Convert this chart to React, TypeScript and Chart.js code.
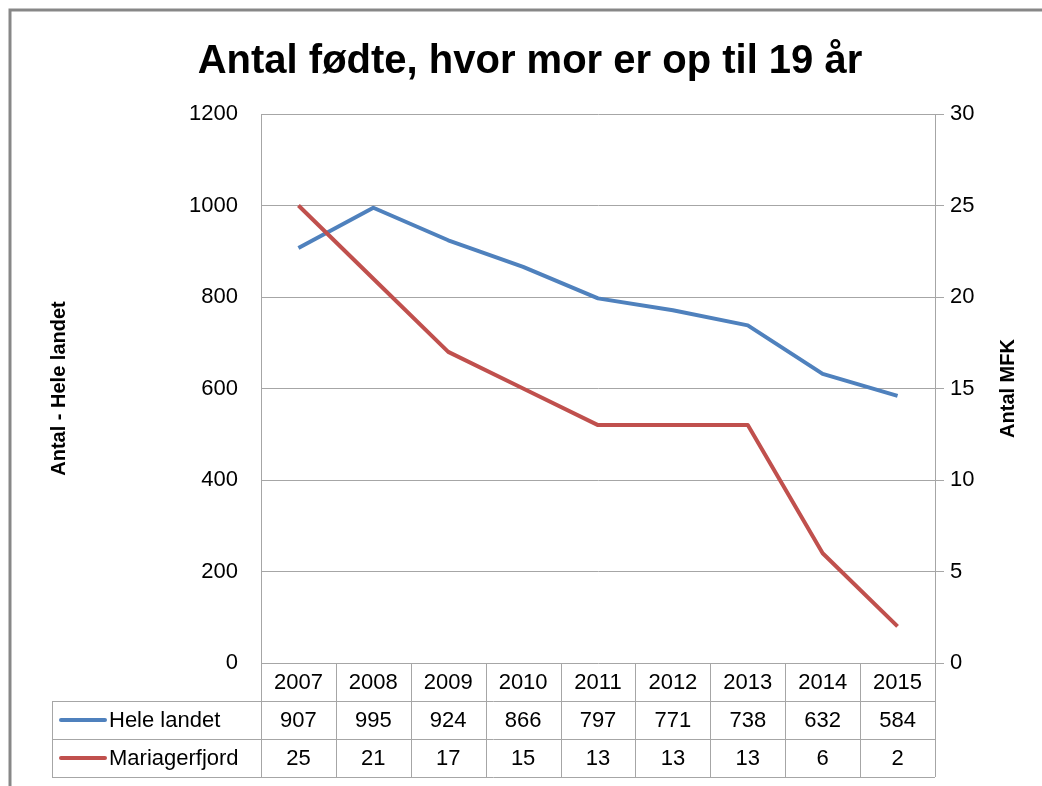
import React, { useEffect, useRef } from "react";
import { Chart, registerables } from "chart.js";

Chart.register(...registerables);

const years = ["2007", "2008", "2009", "2010", "2011", "2012", "2013", "2014", "2015"];
const heleLandet = [907, 995, 924, 866, 797, 771, 738, 632, 584];
const mariagerfjord = [25, 21, 17, 15, 13, 13, 13, 6, 2];
const leftTicks = [0, 200, 400, 600, 800, 1000, 1200];
const rightTicks = [0, 5, 10, 15, 20, 25, 30];

const TITLE = "Antal fødte, hvor mor er op til 19 år";
const LEFT_TITLE = "Antal - Hele landet";
const RIGHT_TITLE = "Antal MFK";
const NAME_A = "Hele landet";
const NAME_B = "Mariagerfjord";

const BLUE = "#4F81BD";
const RED = "#C0504D";
const GRID = "#a6a6a6";
const FONT = "'Liberation Sans', Arial, sans-serif";

const W = 1042;
const H = 786;

const decorPlugin = {
  id: "decor",
  beforeDraw(chart: any) {
    const ctx = chart.ctx;
    ctx.save();
    ctx.fillStyle = "#ffffff";
    ctx.fillRect(0, 0, W, H);
    ctx.strokeStyle = "#878787";
    ctx.lineWidth = 3;
    ctx.strokeRect(10, 10, W + 50, H + 50);
    ctx.restore();
  },
  afterDraw(chart: any) {
    const ctx = chart.ctx;
    const area = chart.chartArea;
    const xs = chart.scales.x;
    ctx.save();
    // main title
    ctx.fillStyle = "#000";
    ctx.font = `bold 40px ${FONT}`;
    ctx.textAlign = "center";
    ctx.textBaseline = "alphabetic";
    ctx.fillText(TITLE, 530, 73);

    // axis titles
    const cy = (area.top + area.bottom) / 2;
    ctx.font = `bold 20px ${FONT}`;
    ctx.textBaseline = "middle";
    ctx.save();
    ctx.translate(59, cy);
    ctx.rotate(-Math.PI / 2);
    ctx.fillText(LEFT_TITLE, 0, 0);
    ctx.restore();
    ctx.save();
    ctx.translate(1008, cy);
    ctx.rotate(-Math.PI / 2);
    ctx.fillText(RIGHT_TITLE, 0, 0);
    ctx.restore();

    // data table
    const n = years.length;
    const colW = (area.right - area.left) / n;
    const top = area.bottom;
    const r1 = top + 38;
    const r2 = r1 + 38;
    const r3 = r2 + 38;
    const legL = 52;
    ctx.strokeStyle = GRID;
    ctx.lineWidth = 1;
    ctx.beginPath();
    [r1, r2, r3].forEach((y) => {
      ctx.moveTo(legL, Math.round(y) + 0.5);
      ctx.lineTo(area.right, Math.round(y) + 0.5);
    });
    for (let i = 0; i <= n; i++) {
      const x = Math.round(area.left + i * colW) + 0.5;
      ctx.moveTo(x, top);
      ctx.lineTo(x, r3);
    }
    ctx.moveTo(legL + 0.5, r1);
    ctx.lineTo(legL + 0.5, r3);
    ctx.stroke();

    ctx.font = `22px ${FONT}`;
    ctx.fillStyle = "#000";
    ctx.textAlign = "center";
    ctx.textBaseline = "middle";
    for (let i = 0; i < n; i++) {
      const cx = xs.getPixelForValue(i);
      ctx.fillText(years[i], cx, (top + r1) / 2 + 1);
      ctx.fillText(String(heleLandet[i]), cx, (r1 + r2) / 2 + 1);
      ctx.fillText(String(mariagerfjord[i]), cx, (r2 + r3) / 2 + 1);
    }
    const rows = [
      { name: NAME_A, color: BLUE, y: (r1 + r2) / 2 },
      { name: NAME_B, color: RED, y: (r2 + r3) / 2 },
    ];
    rows.forEach((r) => {
      ctx.strokeStyle = r.color;
      ctx.lineWidth = 4;
      ctx.lineCap = "round";
      ctx.beginPath();
      ctx.moveTo(61, r.y);
      ctx.lineTo(105, r.y);
      ctx.stroke();
      ctx.textAlign = "left";
      ctx.fillText(r.name, 109, r.y + 1);
    });
    ctx.restore();
  },
};

export default function App() {
  const ref = useRef<HTMLCanvasElement | null>(null);
  useEffect(() => {
    if (!ref.current) return;
    const chart = new Chart(ref.current, {
      type: "line",
      data: {
        labels: years,
        datasets: [
          {
            label: NAME_A,
            data: heleLandet,
            borderColor: BLUE,
            backgroundColor: BLUE,
            borderWidth: 4,
            pointRadius: 0,
            tension: 0,
            borderJoinStyle: "round",
            yAxisID: "y",
            order: 1,
          },
          {
            label: NAME_B,
            data: mariagerfjord,
            borderColor: RED,
            backgroundColor: RED,
            borderWidth: 4,
            pointRadius: 0,
            tension: 0,
            borderJoinStyle: "round",
            yAxisID: "y1",
            order: 0,
          },
        ],
      },
      options: {
        responsive: false,
        animation: false,
        layout: { padding: { top: 114, bottom: 123, left: 0, right: 0 } },
        plugins: {
          legend: { display: false },
          title: { display: false },
          tooltip: { enabled: false },
        },
        scales: {
          x: {
            display: false,
            offset: true,
          },
          y: {
            position: "left",
            min: 0,
            max: 1200,
            afterBuildTicks: (s: any) => {
              s.ticks = leftTicks.map((v) => ({ value: v }));
            },
            afterFit: (s: any) => {
              s.width = 261;
            },
            ticks: {
              padding: 23,
              color: "#000",
              font: { family: FONT, size: 22 },
              callback: (v: any) => String(v),
            },
            grid: { color: GRID, lineWidth: 1, drawTicks: false },
            border: { display: true, color: GRID, width: 1 },
          },
          y1: {
            position: "right",
            min: 0,
            max: 30,
            afterBuildTicks: (s: any) => {
              s.ticks = rightTicks.map((v) => ({ value: v }));
            },
            afterFit: (s: any) => {
              s.width = 107;
            },
            ticks: {
              padding: 6,
              color: "#000",
              font: { family: FONT, size: 22 },
              callback: (v: any) => String(v),
            },
            grid: {
              drawOnChartArea: false,
              color: GRID,
              lineWidth: 1,
              drawTicks: true,
              tickLength: 9,
            },
            border: { display: true, color: GRID, width: 1 },
          },
        },
      },
      plugins: [decorPlugin],
    });
    return () => chart.destroy();
  }, []);
  return (
    <div style={{ position: "absolute", left: 0, top: 0, width: W, height: H, background: "#fff" }}>
      <canvas ref={ref} width={W} height={H} style={{ display: "block" }} />
    </div>
  );
}
